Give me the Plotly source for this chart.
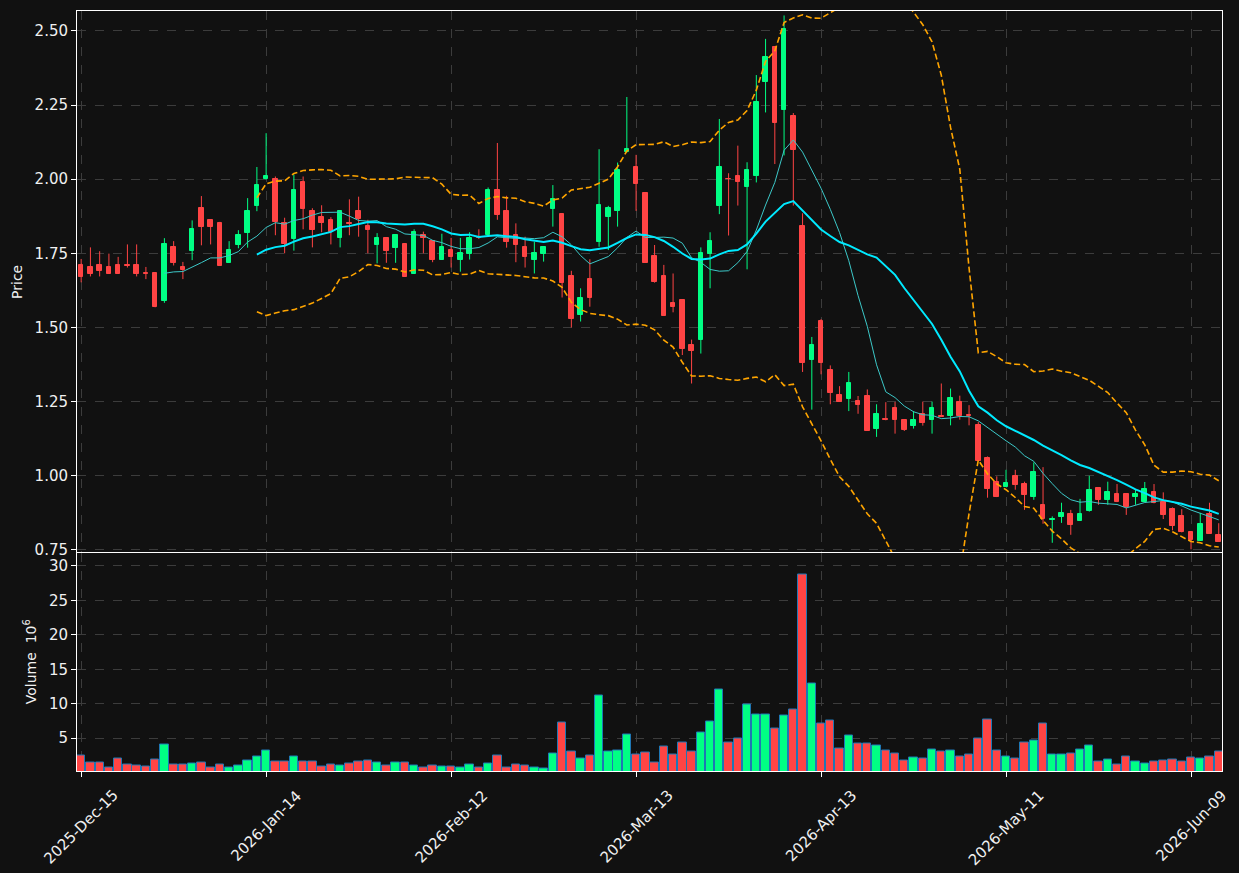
import numpy as np
import pandas as pd
import plotly.graph_objects as go

# ---------------- data ----------------
holidays = ["2025-12-25", "2026-01-01", "2026-01-19", "2026-02-16", "2026-04-03", "2026-05-25"]
dates = pd.bdate_range("2025-12-15", "2026-06-12", freq="C", holidays=holidays)

open_ = [1.711, 1.704, 1.711, 1.704, 1.711, 1.711, 1.711, 1.684, 1.684, 1.590,
         1.771, 1.704, 1.759, 1.903, 1.863, 1.852, 1.718, 1.779, 1.820, 1.911,
         1.999, 2.000, 1.851, 1.798, 1.990, 1.893, 1.872, 1.863, 1.800, 1.853,
         1.893, 1.841, 1.778, 1.802, 1.769, 1.782, 1.681, 1.812, 1.792, 1.729,
         1.761, 1.729, 1.749, 1.803, 1.812, 1.964, 1.893, 1.812, 1.771, 1.727,
         1.749, 1.901, 1.883, 1.673, 1.541, 1.662, 1.789, 1.874, 1.891, 2.090,
         2.041, 1.954, 1.741, 1.673, 1.582, 1.592, 1.440, 1.457, 1.748, 1.911,
         2.001, 2.011, 1.972, 2.009, 2.327, 2.444, 2.232, 2.214, 1.842, 1.390,
         1.521, 1.356, 1.271, 1.259, 1.251, 1.270, 1.158, 1.190, 1.230, 1.189,
         1.167, 1.209, 1.187, 1.202, 1.200, 1.248, 1.205, 1.170, 1.061, 0.980,
         0.962, 1.000, 0.971, 0.930, 0.900, 0.851, 0.860, 0.872, 0.849, 0.882,
         0.959, 0.919, 0.939, 0.939, 0.927, 0.912, 0.945, 0.912, 0.889, 0.865,
         0.812, 0.780, 0.870, 0.801]
high = [1.731, 1.770, 1.757, 1.749, 1.738, 1.780, 1.780, 1.704, 1.686, 1.801,
        1.791, 1.721, 1.861, 1.943, 1.865, 1.856, 1.791, 1.828, 1.936, 2.041,
        2.155, 2.009, 1.870, 2.015, 2.009, 1.902, 1.912, 1.872, 1.893, 1.932,
        1.941, 1.863, 1.818, 1.802, 1.812, 1.782, 1.831, 1.823, 1.792, 1.816,
        1.802, 1.802, 1.821, 1.831, 1.972, 2.122, 1.944, 1.851, 1.806, 1.789,
        1.771, 1.980, 1.883, 1.691, 1.632, 1.730, 2.101, 1.910, 2.056, 2.277,
        2.082, 1.954, 1.778, 1.711, 1.682, 1.592, 1.459, 1.770, 1.821, 2.203,
        2.020, 2.113, 2.057, 2.351, 2.473, 2.444, 2.552, 2.223, 1.885, 1.468,
        1.528, 1.372, 1.302, 1.350, 1.269, 1.291, 1.241, 1.248, 1.249, 1.189,
        1.218, 1.250, 1.250, 1.311, 1.294, 1.270, 1.238, 1.181, 1.065, 0.998,
        1.020, 1.020, 0.980, 1.045, 1.029, 0.863, 0.909, 0.885, 0.922, 1.000,
        0.959, 0.980, 0.972, 0.939, 0.952, 0.979, 0.972, 0.944, 0.893, 0.887,
        0.812, 0.875, 0.909, 0.840]
low = [1.652, 1.672, 1.672, 1.681, 1.681, 1.702, 1.672, 1.663, 1.568, 1.583,
       1.709, 1.663, 1.727, 1.777, 1.780, 1.708, 1.718, 1.767, 1.769, 1.892,
       1.999, 1.811, 1.750, 1.759, 1.831, 1.770, 1.821, 1.780, 1.770, 1.811,
       1.806, 1.750, 1.716, 1.718, 1.718, 1.671, 1.681, 1.750, 1.720, 1.729,
       1.702, 1.688, 1.729, 1.798, 1.806, 1.863, 1.769, 1.720, 1.702, 1.682,
       1.722, 1.840, 1.601, 1.500, 1.520, 1.570, 1.772, 1.761, 1.840, 2.090,
       1.893, 1.718, 1.651, 1.539, 1.551, 1.407, 1.311, 1.412, 1.632, 1.882,
       1.810, 1.911, 1.696, 1.989, 2.225, 2.051, 2.080, 1.911, 1.350, 1.223,
       1.342, 1.241, 1.249, 1.218, 1.209, 1.151, 1.131, 1.187, 1.142, 1.151,
       1.159, 1.169, 1.142, 1.198, 1.170, 1.189, 1.170, 1.050, 0.926, 0.928,
       0.962, 0.953, 0.885, 0.919, 0.838, 0.774, 0.841, 0.801, 0.849, 0.879,
       0.902, 0.902, 0.911, 0.868, 0.902, 0.910, 0.907, 0.854, 0.816, 0.809,
       0.752, 0.780, 0.805, 0.778]
close = [1.671, 1.681, 1.691, 1.681, 1.681, 1.707, 1.681, 1.681, 1.570, 1.782,
         1.718, 1.694, 1.832, 1.840, 1.840, 1.708, 1.761, 1.812, 1.893, 1.981,
         2.011, 1.854, 1.782, 1.963, 1.900, 1.830, 1.851, 1.821, 1.893, 1.849,
         1.865, 1.830, 1.802, 1.759, 1.812, 1.671, 1.821, 1.800, 1.729, 1.771,
         1.739, 1.751, 1.802, 1.800, 1.964, 1.880, 1.789, 1.779, 1.739, 1.751,
         1.771, 1.934, 1.651, 1.529, 1.601, 1.600, 1.913, 1.903, 2.032, 2.102,
         1.984, 1.718, 1.653, 1.539, 1.570, 1.428, 1.421, 1.750, 1.792, 2.042,
         1.999, 1.989, 2.032, 2.261, 2.413, 2.191, 2.505, 2.099, 1.381, 1.440,
         1.381, 1.279, 1.249, 1.312, 1.239, 1.151, 1.209, 1.188, 1.187, 1.155,
         1.189, 1.178, 1.230, 1.199, 1.261, 1.202, 1.200, 1.050, 0.955, 0.928,
         0.976, 0.968, 0.935, 1.011, 0.855, 0.855, 0.875, 0.833, 0.872, 0.953,
         0.919, 0.946, 0.913, 0.893, 0.939, 0.955, 0.907, 0.869, 0.829, 0.809,
         0.783, 0.838, 0.805, 0.778]
volume_m = [2.52, 1.45, 1.45, 0.78, 2.08, 1.16, 1.02, 0.87, 1.94, 4.07,
            1.16, 1.16, 1.36, 1.45, 0.73, 1.16, 0.73, 1.02, 1.74, 2.33,
            3.25, 1.60, 1.60, 2.33, 1.60, 1.60, 0.87, 1.16, 1.02, 1.31,
            1.60, 1.74, 1.45, 1.02, 1.45, 1.45, 1.02, 0.73, 1.02, 0.87,
            0.87, 0.73, 1.16, 0.73, 1.31, 2.52, 0.73, 1.16, 1.02, 0.73,
            0.58, 2.76, 7.32, 3.05, 2.03, 2.52, 11.24, 3.05, 3.20, 5.57,
            2.62, 2.91, 1.45, 3.78, 2.62, 4.36, 3.05, 5.86, 7.46, 12.11,
            4.36, 4.94, 9.88, 8.43, 8.43, 6.44, 8.28, 9.16, 28.78, 12.94,
            7.17, 7.56, 3.49, 5.40, 4.22, 4.22, 3.92, 3.20, 2.76, 1.74,
            2.18, 2.03, 3.34, 3.05, 3.20, 2.33, 2.62, 4.94, 7.75, 3.20,
            2.33, 2.03, 4.36, 4.70, 7.17, 2.62, 2.62, 2.76, 3.34, 3.92,
            1.60, 1.89, 1.16, 2.33, 1.60, 1.31, 1.60, 1.74, 1.89, 1.60,
            2.18, 2.03, 2.33, 3.05]

tick_step = 20

# ---------------- derived ----------------
n = len(close)
idx = np.arange(n)
o = np.array(open_); h = np.array(high); l = np.array(low); c = np.array(close)
up = c >= o
cs = pd.Series(c)
ma10 = cs.rolling(10).mean()
ma20 = cs.rolling(20).mean()
sd20 = cs.rolling(20).std()
bb_up = ma20 + 2 * sd20
bb_lo = ma20 - 2 * sd20

GREEN = "#00ff84"
RED = "#ff4444"
BG = "#111111"
GRID = "#3c3c3c"
FG = "#f0f0f0"

fig = go.Figure()

def wick_xy(mask):
    xs, ys = [], []
    for i in idx[mask]:
        xs += [i, i, None]
        ys += [l[i], h[i], None]
    return xs, ys

for mask, col in ((up, GREEN), (~up, RED)):
    wx, wy = wick_xy(mask)
    fig.add_trace(go.Scatter(x=wx, y=wy, mode="lines", line=dict(color=col, width=1),
                             hoverinfo="skip", showlegend=False, xaxis="x", yaxis="y"))
    body_base = np.minimum(o, c)[mask]
    body_h = np.abs(c - o)[mask]
    fig.add_trace(go.Bar(x=idx[mask], y=body_h, base=body_base, width=0.5,
                         marker=dict(color=col, line=dict(color=col, width=1)),
                         showlegend=False, xaxis="x", yaxis="y"))

fig.add_trace(go.Scatter(x=idx, y=ma10, mode="lines", line=dict(color="#3cc8c8", width=1),
                         showlegend=False, xaxis="x", yaxis="y"))
fig.add_trace(go.Scatter(x=idx, y=ma20, mode="lines", line=dict(color="#00eaff", width=2),
                         showlegend=False, xaxis="x", yaxis="y"))
for band in (bb_up, bb_lo):
    fig.add_trace(go.Scatter(x=idx, y=band, mode="lines",
                             line=dict(color="#ffa500", width=1.6, dash="6px,3px"),
                             showlegend=False, xaxis="x", yaxis="y"))

vol_colors = [GREEN if u else RED for u in up]
fig.add_trace(go.Bar(x=idx, y=volume_m, width=0.9,
                     marker=dict(color=vol_colors, line=dict(color="#1f77b4", width=1)),
                     showlegend=False, xaxis="x2", yaxis="y2"))

tickvals = list(range(0, n, tick_step))
ticktext = [dates[i].strftime("%Y-%b-%d") for i in tickvals]

xr = [-0.45, 123.35]
axis_common = dict(showline=True, mirror=True, linecolor="white", linewidth=1,
                   gridcolor=GRID, griddash="dash", gridwidth=1, zeroline=False,
                   tickfont=dict(color=FG, size=15), tickcolor="white", ticklen=5,
                   automargin=False)

price_bottom = 0.2882
vol_top = 0.2862
plot_h = 873 - 11 - 102

annotations = [
    dict(text="Price", xref="paper", yref="paper", x=-0.052, y=(price_bottom + 1) / 2,
         textangle=-90, showarrow=False, xanchor="center", yanchor="middle",
         font=dict(size=14, color=FG)),
    dict(text="Volume  10<sup>6</sup>", xref="paper", yref="paper", x=-0.041, y=vol_top / 2,
         textangle=-90, showarrow=False, xanchor="center", yanchor="middle",
         font=dict(size=14, color=FG)),
]
for tv, tt in zip(tickvals, ticktext):
    annotations.append(dict(text=tt, xref="x2", yref="paper", x=tv, y=-13 / plot_h,
                            textangle=-45, showarrow=False, xanchor="center", yanchor="top",
                            font=dict(size=15, color=FG)))

fig.update_layout(
    width=1239, height=873,
    margin=dict(l=77, r=17, t=11, b=102),
    paper_bgcolor=BG, plot_bgcolor=BG,
    font=dict(family="DejaVu Sans", color=FG, size=15),
    bargap=0, barmode="overlay",
    xaxis=dict(domain=[0, 1], anchor="y", range=xr, tickvals=tickvals,
               showticklabels=False, ticks="", **{k: v for k, v in axis_common.items()
                                                  if k not in ("tickfont", "tickcolor", "ticklen")}),
    yaxis=dict(domain=[price_bottom, 1], anchor="x", range=[0.743, 2.567],
               tickvals=[0.75, 1.0, 1.25, 1.5, 1.75, 2.0, 2.25, 2.5], tickformat=".2f",
               ticks="outside", **axis_common),
    xaxis2=dict(domain=[0, 1], anchor="y2", range=xr, matches="x", tickvals=tickvals,
                showticklabels=False, ticks="outside", **axis_common),
    yaxis2=dict(domain=[0, vol_top], anchor="x2", range=[0.25, 31.8],
                tickvals=[5, 10, 15, 20, 25, 30], ticks="outside", **axis_common),
    annotations=annotations,
)

fig.write_html("out.html")
